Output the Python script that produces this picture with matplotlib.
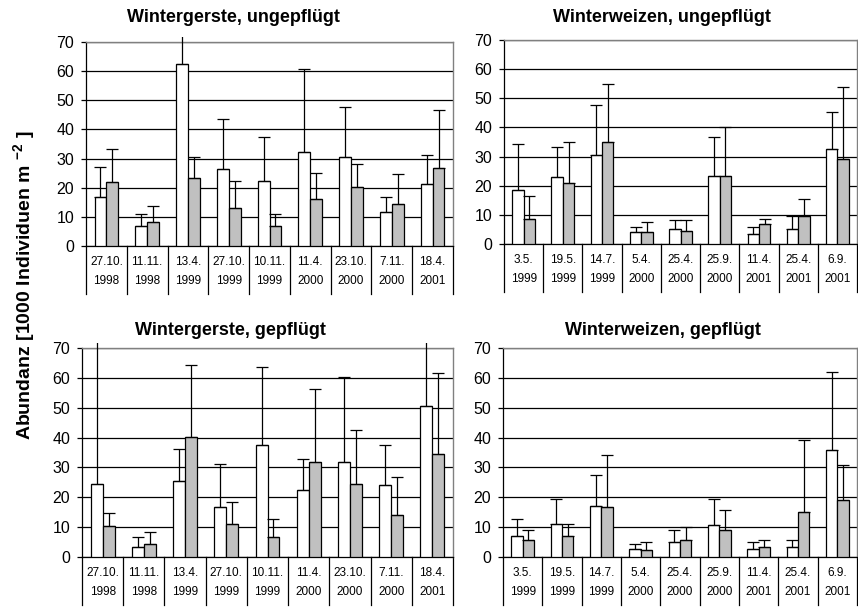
import matplotlib
matplotlib.use("Agg")
import matplotlib.pyplot as plt
from matplotlib.patches import Rectangle
import numpy as np

plt.rcParams['font.family'] = ['Liberation Sans', 'DejaVu Sans']
plt.rcParams['mathtext.fontset'] = 'custom'
plt.rcParams['mathtext.rm'] = 'Liberation Sans'
plt.rcParams['mathtext.bf'] = 'Liberation Sans:bold'

# Probenahmetermine
termine_gerste = ["27.10.", "11.11.", "13.4.", "27.10.", "10.11.", "11.4.", "23.10.", "7.11.", "18.4."]
jahre_gerste = ["1998", "1998", "1999", "1999", "1999", "2000", "2000", "2000", "2001"]
termine_weizen = ["3.5.", "19.5.", "14.7.", "5.4.", "25.4.", "25.9.", "11.4.", "25.4.", "6.9."]
jahre_weizen = ["1999", "1999", "1999", "2000", "2000", "2000", "2001", "2001", "2001"]

# Mittelwerte und Standardabweichungen (weisse und graue Saeulen)
gerste_ung_w = [16.7, 7.0, 62.4, 26.4, 22.4, 32.2, 30.5, 11.5, 21.4]
gerste_ung_w_sd = [10.3, 4.0, 20.0, 17.2, 14.9, 28.7, 17.1, 5.2, 9.7]
gerste_ung_g = [21.8, 8.1, 23.5, 13.2, 7.0, 16.1, 20.1, 14.4, 26.8]
gerste_ung_g_sd = [11.5, 5.7, 7.1, 9.2, 4.0, 9.1, 8.0, 10.3, 19.7]

weizen_ung_w = [18.4, 23.0, 30.4, 4.0, 5.1, 23.5, 3.4, 5.1, 32.7]
weizen_ung_w_sd = [16.0, 10.2, 17.2, 1.7, 3.0, 13.3, 2.3, 4.6, 12.6]
weizen_ung_g = [8.7, 20.9, 34.9, 4.0, 4.6, 23.5, 6.9, 9.7, 29.3]
weizen_ung_g_sd = [7.9, 14.0, 20.1, 3.4, 3.5, 16.7, 1.7, 5.7, 24.6]

gerste_gep_w = [24.6, 3.2, 25.6, 16.7, 37.4, 22.3, 31.8, 24.0, 50.7]
gerste_gep_w_sd = [50.0, 3.4, 10.6, 14.6, 26.3, 10.6, 28.5, 13.4, 25.0]
gerste_gep_g = [10.5, 4.5, 40.3, 11.1, 6.7, 31.8, 24.6, 13.9, 34.6]
gerste_gep_g_sd = [4.1, 3.8, 23.9, 7.4, 6.1, 24.6, 17.9, 12.9, 26.9]

weizen_gep_w = [7.2, 11.1, 17.2, 2.8, 5.0, 10.6, 2.8, 3.3, 35.7]
weizen_gep_w_sd = [5.6, 8.4, 10.2, 1.7, 3.9, 8.9, 2.2, 2.3, 26.4]
weizen_gep_g = [5.6, 7.2, 16.7, 2.2, 5.6, 8.9, 3.3, 15.1, 19.0]
weizen_gep_g_sd = [3.3, 3.9, 17.4, 2.8, 4.4, 6.7, 2.3, 24.0, 11.8]

W, H = 858, 610
fig = plt.figure(figsize=(W / 100, H / 100), dpi=100)


def px_rect(left, top, right, bottom):
    return [left / W, 1 - bottom / H, (right - left) / W, (bottom - top) / H]


def panel(rect, titel, titel_xy, termine, jahre, weiss, weiss_sd, grau, grau_sd):
    ax = fig.add_axes(px_rect(*rect))
    h_px = rect[3] - rect[1]
    n = len(termine)
    x = np.arange(n)
    b = 0.29

    ax.bar(x - b / 2, weiss, b, color='white', edgecolor='black', linewidth=0.9, zorder=3)
    ax.bar(x + b / 2, grau, b, color='#c0c0c0', edgecolor='black', linewidth=0.9, zorder=3)

    # Fehlerbalken nur nach oben, knapp ueber dem Rahmen abgeschnitten
    clip = Rectangle((0, 0), 1, 1 + 5 / h_px, transform=ax.transAxes)
    for xs, m, sd in [(x - b / 2, weiss, weiss_sd), (x + b / 2, grau, grau_sd)]:
        eb = ax.errorbar(xs, m, yerr=[np.zeros(n), sd], fmt='none', ecolor='black',
                         elinewidth=0.9, capsize=4.2, capthick=0.9, zorder=4)
        for art in eb.get_children():
            art.set_clip_path(clip)

    ax.set_xlim(-0.5, n - 0.5)
    ax.set_ylim(0, 70)
    ax.set_yticks(range(0, 71, 10))
    ax.set_xticks([])
    ax.set_axisbelow(True)
    ax.yaxis.grid(True, color='black', linewidth=0.9)
    ax.tick_params(axis='y', direction='out', length=3.5, width=0.9, pad=5, labelsize=11.5)
    for s in ['top', 'right']:
        ax.spines[s].set_color('#808080')
        ax.spines[s].set_linewidth(1.0)
    for s in ['left', 'bottom']:
        ax.spines[s].set_color('black')
        ax.spines[s].set_linewidth(0.9)

    # Tabellenartige Beschriftung unter der Achse
    tr = ax.get_xaxis_transform()
    for i in range(n + 1):
        ax.plot([i - 0.5, i - 0.5], [0, -48 / h_px], transform=tr, color='black',
                linewidth=0.9, clip_on=False)
    for i in range(n):
        ax.annotate(termine[i], xy=(i, 0), xycoords=tr, xytext=(0, -11.5),
                    textcoords='offset points', ha='center', va='center', fontsize=8.5)
        ax.annotate(jahre[i], xy=(i, 0), xycoords=tr, xytext=(0, -25.2),
                    textcoords='offset points', ha='center', va='center', fontsize=8.5)

    fig.text(titel_xy[0] / W, 1 - titel_xy[1] / H, titel, ha='center', va='baseline',
             fontsize=13, fontweight='bold')
    return ax


panel((86, 42, 453, 246), "Wintergerste, ungepflügt", (233, 22),
      termine_gerste, jahre_gerste, gerste_ung_w, gerste_ung_w_sd, gerste_ung_g, gerste_ung_g_sd)
panel((504, 40, 857, 244), "Winterweizen, ungepflügt", (662, 22),
      termine_weizen, jahre_weizen, weizen_ung_w, weizen_ung_w_sd, weizen_ung_g, weizen_ung_g_sd)
panel((82, 348, 453, 557), "Wintergerste, gepflügt", (230, 335),
      termine_gerste, jahre_gerste, gerste_gep_w, gerste_gep_w_sd, gerste_gep_g, gerste_gep_g_sd)
panel((503, 348, 857, 557), "Winterweizen, gepflügt", (663, 335),
      termine_weizen, jahre_weizen, weizen_gep_w, weizen_gep_w_sd, weizen_gep_g, weizen_gep_g_sd)

fig.text(25 / W, 1 - 285 / H, r"Abundanz [1000 Individuen m $^{\mathbf{-2}}$ ]",
         rotation=90, ha='center', va='center', fontsize=14, fontweight='bold')

fig.savefig("out.png", dpi=100)
